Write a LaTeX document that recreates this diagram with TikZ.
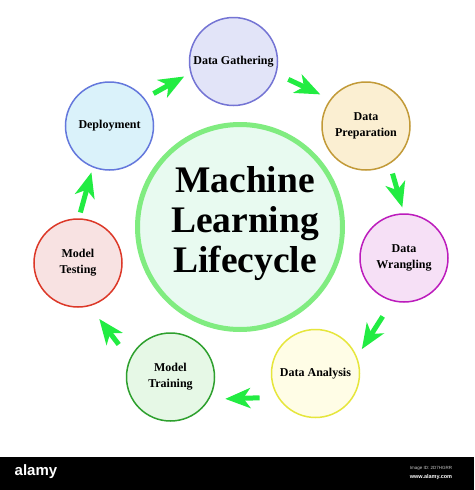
\documentclass[tikz,border=0pt]{standalone}
\usepackage{fontspec}
\setmainfont{Liberation Serif}
\setsansfont{Liberation Sans}
\usetikzlibrary{arrows.meta}

\definecolor{flowgreen}{RGB}{34,236,66}
\definecolor{hubline}{RGB}{128,236,128}
\definecolor{hubfill}{RGB}{232,250,240}

\tikzset{
  stage/.style={circle,minimum size=88pt,inner sep=0pt,line width=1.5pt,align=center,
    font=\fontsize{12}{16}\selectfont\bfseries},
  flow/.style={flowgreen,line width=5pt,-{Stealth[length=25pt,width=20pt,inset=7pt]}},
}

\begin{document}
\begin{tikzpicture}[x=1pt,y=-1pt]
    \useasboundingbox (0,0) rectangle (474,490);
    \fill[white] (0,0) rectangle (474,490);
	% centre
	\node[circle,minimum size=205pt,line width=5pt,draw=hubline,fill=hubfill] (hub) at (240,227) {};
	\node[align=center,font=\fontsize{37.5}{40}\selectfont\bfseries] (title) at ([xshift=5pt,yshift=3pt]hub.center) {Machine\\Learning\\Lifecycle};
	% stages
	\node[stage,draw={rgb,255:red,116;green,116;blue,212},fill={rgb,255:red,226;green,228;blue,248}] (gath) at (233.5,61.5) {Data Gathering};
	\node[stage,draw={rgb,255:red,194;green,154;blue,56},fill={rgb,255:red,251;green,239;blue,210}] (prep) at (366,126) {Data\\Preparation};
	\node[stage,draw={rgb,255:red,188;green,28;blue,188},fill={rgb,255:red,246;green,224;blue,246}] (wrang) at (404,258) {Data\\Wrangling};
	\node[stage,draw={rgb,255:red,230;green,230;blue,60},fill={rgb,255:red,255;green,253;blue,230}] (anal) at (315.5,373.5) {Data Analysis};
	\node[stage,draw={rgb,255:red,46;green,160;blue,46},fill={rgb,255:red,230;green,248;blue,230}] (train) at (170.5,377) {Model\\Training};
	\node[stage,draw={rgb,255:red,220;green,56;blue,40},fill={rgb,255:red,248;green,226;blue,226}] (test) at (78,263) {Model\\Testing};
	\node[stage,draw={rgb,255:red,100;green,120;blue,220},fill={rgb,255:red,218;green,242;blue,250}] (dep) at (109.5,126) {Deployment};
	% arrows
	\draw[flow,shorten <=10pt,shorten >=7pt] (dep.38) -- (gath.195);
	\draw[flow,shorten <=13pt,shorten >=11pt] (gath.344) -- (prep.143);
	\draw[flow,shorten <=10pt,shorten >=6pt] (prep.302) -- (wrang.90);
	\draw[flow,shorten <=18pt,shorten >=9pt] (wrang.255) -- (anal.22);
	\draw[flow,shorten <=18pt,shorten >=16pt] (anal.212) -- (train.330);
	\draw[flow,shorten <=18pt,shorten >=16pt] (train.156) -- (test.285);
	\draw[flow,shorten <=6pt,shorten >=5pt] (test.89) -- (dep.248);
	% stock band
	\fill[black] (0,457) rectangle (474,490);
	\node[white,font=\sffamily\bfseries\fontsize{15}{15}\selectfont] (logo) at (36,472) {alamy};
	\node[white!80!black,font=\sffamily\fontsize{4.5}{5}\selectfont] (imgid) at (431,468) {Image ID: 2D7HGRR};
	\node[white,font=\sffamily\bfseries\fontsize{5.5}{6}\selectfont] (site) at (431,477) {www.alamy.com};
\end{tikzpicture}
\end{document}
